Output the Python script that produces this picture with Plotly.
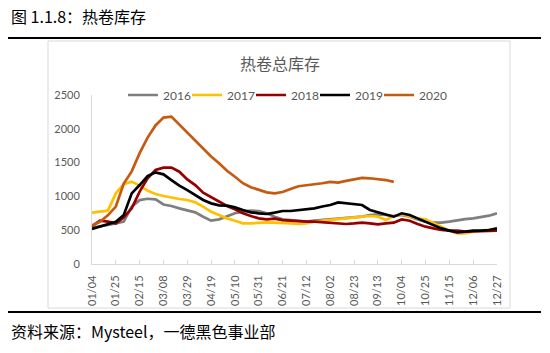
import plotly.graph_objects as go

# ---- data ----
tick_labels = ["01/04", "01/25", "02/15", "03/08", "03/29", "04/19", "05/10", "05/31", "06/21",
               "07/12", "08/02", "08/23", "09/13", "10/04", "10/25", "11/15", "12/06", "12/27"]
weeks = list(range(52))

s2016 = [537, 552, 577, 601, 626, 848, 945, 965, 955, 880, 858, 823, 799, 764, 700, 641, 660, 700,
         750, 774, 789, 784, 750, 700, 660, 651, 641, 626,
         641, 650, 660, 668, 675, 688, 700, 725, 735, 725, 710, 725, 700, 660, 626, 611, 611, 626,
         651, 665, 675, 690, 715, 750]
s2017 = [760, 774, 789, 1045, 1180, 1218, 1160, 1085, 1035, 1006, 981, 961, 947, 912, 848, 774,
         725, 675, 641, 601, 601, 611, 616, 611, 611, 601, 592, 601,
         626, 640, 651, 665, 675, 685, 700, 710, 700, 651, 710, 735, 700, 675, 660, 601, 552, 493,
         454, 454, 478, 493, 513, 520]
s2018 = [560, 640, 626, 600, 690, 823, 1070, 1267, 1390, 1425, 1425, 1365, 1252, 1168, 1055, 986,
         922, 858, 808, 750, 710, 675, 660, 670, 650, 640, 630, 626,
         626, 618, 611, 600, 592, 600, 611, 601, 587, 601, 611, 660, 640, 592, 552, 527, 503, 493,
         493, 478, 478, 478, 488, 493]
s2019 = [518, 552, 592, 626, 725, 1045, 1168, 1300, 1356, 1326, 1242, 1160, 1094, 1020, 947, 897,
         868, 863, 838, 799, 764, 750, 740, 760, 784, 784, 799, 805,
         823, 850, 873, 912, 897, 887, 873, 799, 764, 740, 700, 750, 725, 675, 626, 577, 527, 493,
         468, 478, 493, 493, 503, 527]
s2020 = [570, 625, 720, 850, 1190, 1370, 1640, 1870, 2050, 2165, 2180, 2060, 1950, 1830, 1710, 1590,
         1490, 1380, 1290, 1195, 1135, 1095, 1060, 1045, 1065, 1110, 1150, 1165, 1175, 1195, 1215,
         1205, 1230, 1250, 1275, 1268, 1258, 1242, 1215]

series_names = ["2016", "2017", "2018", "2019", "2020"]
series_vals = [s2016, s2017, s2018, s2019, s2020]
colors = ["#7f7f7f", "#ffc000", "#960000", "#000000", "#c55a11"]

# ---- geometry (pixels) ----
W, H = 550, 353
L, R, T, B = 92, 497, 95, 264


def px(x):
    return (x - L) / (R - L)


def py(y):
    return (B - y) / (B - T)


fig = go.Figure()
for name, vals, c in zip(series_names, series_vals, colors):
    fig.add_trace(go.Scatter(x=weeks[:len(vals)], y=vals, mode="lines", name=name,
                             line=dict(color=c, width=2.7)))
# invisible spacer entry so the last legend label is not clipped
fig.add_trace(go.Scatter(x=[None], y=[None], mode="lines", name=" ",
                         line=dict(color="rgba(0,0,0,0)", width=0), hoverinfo="skip"))

axis_font = dict(family="Lato, Liberation Sans, sans-serif", size=11, color="#595959")
legend_font = dict(family="Lato, Liberation Sans, sans-serif", size=12, color="#595959")
cjk = "Noto Sans CJK SC, sans-serif"

fig.update_layout(
    width=W, height=H,
    margin=dict(l=L, r=W - R, t=T, b=H - B, pad=0),
    paper_bgcolor="white", plot_bgcolor="white",
    showlegend=True,
    legend=dict(orientation="h", x=px(123), y=py(95), xanchor="left", yanchor="middle",
                font=legend_font, entrywidth=19, entrywidthmode="pixels",
                bgcolor="rgba(0,0,0,0)", itemwidth=30, tracegroupgap=0),
    xaxis=dict(range=[0, 51], tickmode="array", tickvals=list(range(0, 52, 3)),
               ticktext=tick_labels, tickangle=-90, tickfont=axis_font,
               showgrid=False, zeroline=False, showline=True, linecolor="#d9d9d9", linewidth=1,
               ticks="inside", ticklen=4, tickcolor="#d9d9d9", ticklabelstandoff=6,
               fixedrange=True),
    yaxis=dict(range=[0, 2500], tickvals=[0, 500, 1000, 1500, 2000, 2500], tickfont=axis_font,
               showgrid=False, zeroline=False, showline=True, linecolor="#d9d9d9", linewidth=1,
               ticks="", ticklabelstandoff=9, fixedrange=True),
)

shapes = [
    # chart frame
    dict(type="rect", xref="paper", yref="paper", x0=px(48), x1=px(510), y0=py(308), y1=py(41),
         line=dict(color="#d9d9d9", width=1), fillcolor="rgba(0,0,0,0)", layer="below"),
    # top & bottom rule
    dict(type="line", xref="paper", yref="paper", x0=px(8), x1=px(541), y0=py(38), y1=py(38),
         line=dict(color="black", width=2)),
    dict(type="line", xref="paper", yref="paper", x0=px(8), x1=px(541), y0=py(312), y1=py(312),
         line=dict(color="black", width=2)),
]
fig.update_layout(shapes=shapes)

annotations = [
    dict(text="图 1.1.8：热卷库存", x=px(9), y=py(16), xref="paper", yref="paper",
         xanchor="left", yanchor="middle", showarrow=False,
         font=dict(family=cjk, size=16, color="black")),
    dict(text="资料来源：Mysteel，一德黑色事业部", x=px(9), y=py(331), xref="paper", yref="paper",
         xanchor="left", yanchor="middle", showarrow=False,
         font=dict(family=cjk, size=16, color="black")),
    dict(text="热卷总库存", x=px(280), y=py(63), xref="paper", yref="paper",
         xanchor="center", yanchor="middle", showarrow=False,
         font=dict(family=cjk, size=16, color="#595959")),
]
fig.update_layout(annotations=annotations)

fig.write_html("out.html", config={"displayModeBar": False})
